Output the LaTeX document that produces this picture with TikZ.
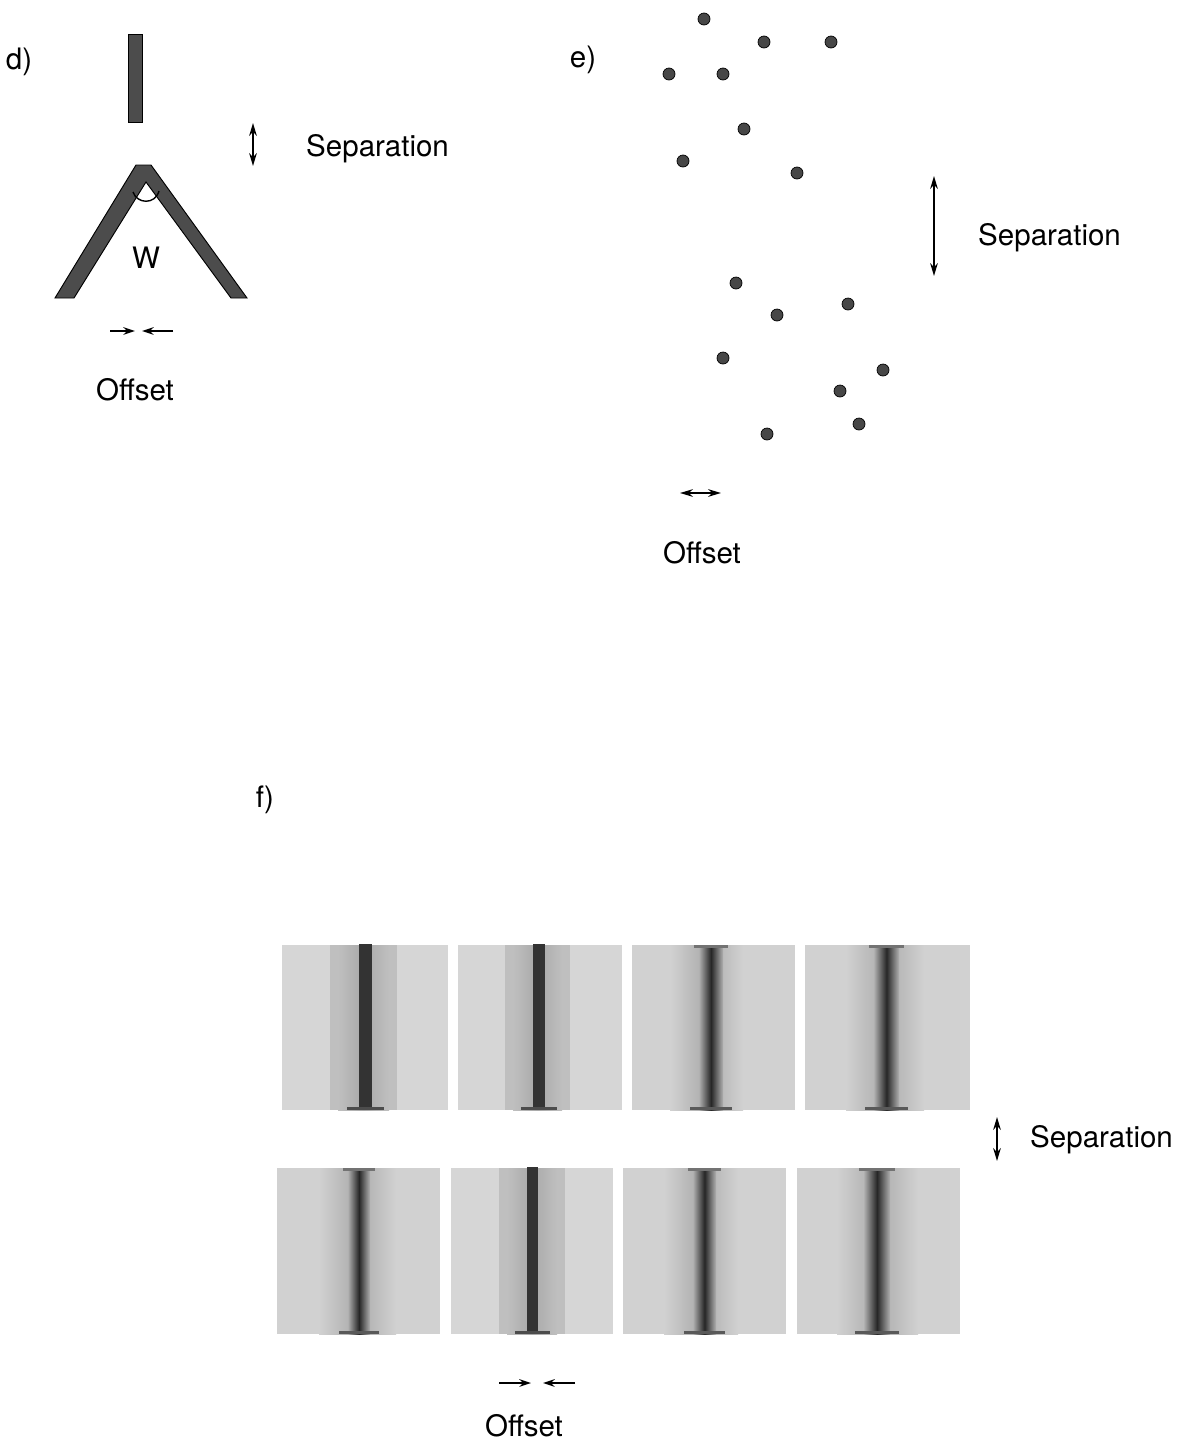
\documentclass[tikz,border=0pt]{standalone}
\usepackage{fontspec}
\setmainfont{TeX Gyre Heros}
\usetikzlibrary{arrows.meta}
% panel: x1 y1 x2 y2 barx1 barx2 bandx1 bandx2
\newcommand\fpanelsharp[8]{%
  \fill[gray!32] (#1,#2) rectangle (#3,#4);
  \fill[gray!50] (#7,#2) rectangle (#8,#4);
  \shade[left color=gray!50, right color=gray!50, middle color=gray!68] (#7+8,#2) rectangle (#8-8,#4);
  \fill[black!80] (#5,#2-1) rectangle (#6,#4);
  \fill[black!70] (#5-12,#4-3) rectangle (#6+12,#4);
}
\newcommand\fpanelsoft[8]{%
  \fill[gray!36] (#1,#2) rectangle (#3,#4);
  \shade[left color=gray!36, right color=gray!36, middle color=gray!66] (#7-6,#2) rectangle (#8+6,#4);
  \shade[left color=gray!62, right color=gray!62, middle color=black!85] (#5-5,#2) rectangle (#6+5,#4);
  \fill[black!65] (#5-14,#4-3) rectangle (#6+14,#4);
  \fill[black!55] (#5-10,#2) rectangle (#6+10,#2+3);
}
\begin{document}
\begin{tikzpicture}[x=0.03cm,y=-0.03cm,
  lbl/.style={font=\fontsize{25.2}{30}\selectfont, inner sep=0pt},
  dbl/.style={{Stealth[length=11pt,width=6.5pt]}-{Stealth[length=11pt,width=6.5pt]}, line width=1.6pt},
  sgl/.style={-{Stealth[length=10pt,width=6.5pt]}, line width=1.6pt},
  dotn/.style={circle, fill=black!72, draw=black, line width=0.6pt, inner sep=0pt, minimum size=0.36cm},
  shapefill/.style={fill=black!70, draw=black, line width=0.8pt}]
\useasboundingbox (0,0) rectangle (1190,1443);

% ---------------- d) ----------------
\node[lbl] (dlab) at (19,62) {d)};
\fill[shapefill] (128,34) rectangle (142,122);
\filldraw[shapefill] (55,298) -- (136,165) -- (151,165) -- (247,298) -- (231,298)
   -- (146,182) -- (74,298) -- cycle;
\draw[line width=1.2pt] (133,192) .. controls (137,204) and (155,205) .. (159,191);
\node[lbl] (dW) at (146,258) {W};
\coordinate (dsa) at (253,123);
\coordinate (dsb) at (253,166);
\draw[dbl] (dsa) -- (dsb);
\node[lbl, anchor=west] (dsep) at (306,149) {Separation};
\coordinate (doa) at (110,331);
\coordinate (dob) at (135,331);
\coordinate (doc) at (173,331);
\coordinate (dod) at (142,331);
\draw[sgl] (doa) -- (dob);
\draw[sgl] (doc) -- (dod);
\node[lbl] (doff) at (135,390) {Offset};

% ---------------- e) ----------------
\node[lbl] (elab) at (583,60) {e)};
\foreach \p/\q [count=\i] in {704/19, 764/42, 831/42, 669/74, 723/74, 744/129, 683/161,
   797/173, 736/283, 848/304, 777/315, 723/358, 883/370, 840/391, 859/424, 767/434}
   \node[dotn] (edot\i) at (\p,\q) {};
\coordinate (esa) at (934,176);
\coordinate (esb) at (934,276);
\draw[dbl] (esa) -- (esb);
\node[lbl, anchor=west] (esep) at (978,238) {Separation};
\coordinate (eoa) at (680,493);
\coordinate (eob) at (721,493);
\draw[dbl] (eoa) -- (eob);
\node[lbl] (eoff) at (702,553) {Offset};

% ---------------- f) ----------------
\node[lbl] (flab) at (265,800) {f)};
% top row
\fpanelsharp{282}{945}{448}{1110}{359}{372}{330}{397}
\fpanelsharp{458}{945}{622}{1110}{533}{545}{505}{570}
\fpanelsoft{632}{945}{795}{1110}{704}{718}{676}{737}
\fpanelsoft{805}{945}{970}{1110}{879}{894}{852}{918}
% bottom row
\fpanelsoft{277}{1168}{440}{1334}{353}{365}{325}{390}
\fpanelsharp{451}{1168}{613}{1334}{527}{538}{499}{565}
\fpanelsoft{623}{1168}{786}{1334}{698}{711}{670}{732}
\fpanelsoft{797}{1168}{960}{1334}{869}{885}{843}{912}

\coordinate (fsa) at (997,1117);
\coordinate (fsb) at (997,1161);
\draw[dbl] (fsa) -- (fsb);
\node[lbl, anchor=west] (fsep) at (1030,1140) {Separation};
\coordinate (foa) at (499,1383);
\coordinate (fob) at (531,1383);
\coordinate (foc) at (575,1383);
\coordinate (fod) at (543,1383);
\draw[sgl] (foa) -- (fob);
\draw[sgl] (foc) -- (fod);
\node[lbl] (foff) at (524,1426) {Offset};
\end{tikzpicture}
\end{document}
